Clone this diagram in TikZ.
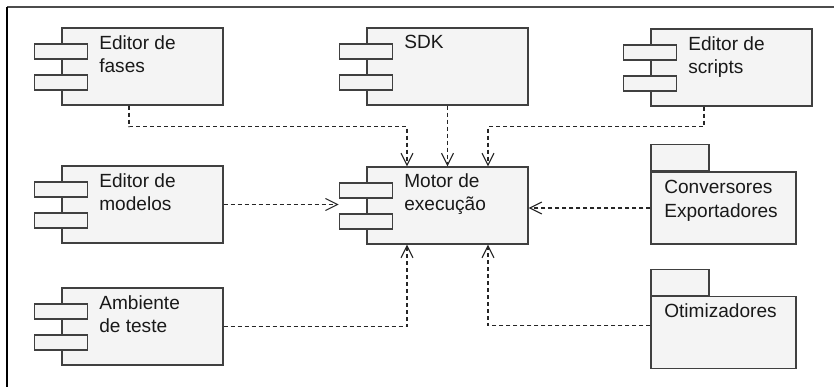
\documentclass[tikz,border=0pt]{standalone}
\usepackage{fontspec}
\setmainfont{Liberation Sans}
\usetikzlibrary{arrows.meta,calc}

\definecolor{boxfill}{RGB}{244,244,244}
\definecolor{boxline}{RGB}{64,64,64}

\tikzset{
  mainbox/.style={draw=boxline, fill=boxfill, line width=1pt, minimum width=120.75pt, minimum height=57.75pt, inner sep=0pt},
  portbox/.style={draw=boxline, fill=boxfill, line width=1pt, minimum width=39.75pt, minimum height=11.25pt, inner sep=0pt},
  pkgbox/.style={draw=boxline, fill=boxfill, line width=1pt, minimum width=108.75pt, minimum height=54pt, inner sep=0pt},
  pkgtab/.style={draw=boxline, fill=boxfill, line width=1pt, minimum width=43.5pt, minimum height=19.5pt, inner sep=0pt, anchor=south west},
  txt/.style={anchor=north west, inner sep=0pt, outer sep=0pt, align=left, text=black!90, font=\fontsize{14.3}{17.8}\selectfont},
  dep/.style={draw=black!85, line width=0.8pt, dash pattern=on 3pt off 2.25pt, -{Straight Barb[length=9pt,width=9pt]}}
}

\begin{document}
\begin{tikzpicture}[x=0.75pt,y=0.75pt,yscale=-1]
        \useasboundingbox (0,0) rectangle (834,387);
        \fill[white] (0,0) rectangle (834,387);
        % Frame
        \draw [black!70, line width=1.1pt] (834,7) -- (7,7) ;
        \draw [black, line width=1.1pt] (7,7) -- (7,387) ;

        % Component: Editor de fases
        \node [mainbox] (fases) at (142.5,66.5) {};
        \node [portbox] (fases-a) at ($(fases.west)+(-0.5,-15)$) {};
        \node [portbox] (fases-b) at ($(fases.west)+(-0.5,16)$) {};
        \node [txt] (fases-t) at ($(fases.north west)+(38,8)$) {Editor de\\fases};
        % Component: SDK
        \node [mainbox] (sdk) at (447.5,66.5) {};
        \node [portbox] (sdk-a) at ($(sdk.west)+(-0.5,-15)$) {};
        \node [portbox] (sdk-b) at ($(sdk.west)+(-0.5,16)$) {};
        \node [txt] (sdk-t) at ($(sdk.north west)+(38,8)$) {SDK};
        % Component: Editor de scripts
        \node [mainbox] (scripts) at (731.5,67.5) {};
        \node [portbox] (scripts-a) at ($(scripts.west)+(-0.5,-15)$) {};
        \node [portbox] (scripts-b) at ($(scripts.west)+(-0.5,16)$) {};
        \node [txt] (scripts-t) at ($(scripts.north west)+(38,8)$) {Editor de\\scripts};
        % Component: Editor de modelos
        \node [mainbox] (modelos) at (142.5,204.5) {};
        \node [portbox] (modelos-a) at ($(modelos.west)+(-0.5,-15)$) {};
        \node [portbox] (modelos-b) at ($(modelos.west)+(-0.5,16)$) {};
        \node [txt] (modelos-t) at ($(modelos.north west)+(38,8)$) {Editor de\\modelos};
        % Component: Motor de execucao
        \node [mainbox] (motor) at (447.5,205.5) {};
        \node [portbox] (motor-a) at ($(motor.west)+(-0.5,-15)$) {};
        \node [portbox] (motor-b) at ($(motor.west)+(-0.5,16)$) {};
        \node [txt] (motor-t) at ($(motor.north west)+(38,7)$) {Motor de\\execução};
        % Component: Ambiente de teste
        \node [mainbox] (ambiente) at (142.5,326.5) {};
        \node [portbox] (ambiente-a) at ($(ambiente.west)+(-0.5,-15)$) {};
        \node [portbox] (ambiente-b) at ($(ambiente.west)+(-0.5,16)$) {};
        \node [txt] (ambiente-t) at ($(ambiente.north west)+(38,8)$) {Ambiente\\de teste};
        % Package: Conversores
        \node [pkgbox] (conv) at (723.5,208) {};
        \node [pkgtab] (conv-tab) at (conv.north west) {};
        \node [txt] (conv-t) at ($(conv.north west)+(14,9)$) {Conversores\\Exportadores};
        % Package: Otimizadores
        \node [pkgbox] (otim) at (723.5,332.5) {};
        \node [pkgtab] (otim-tab) at (otim.north west) {};
        \node [txt] (otim-t) at ($(otim.north west)+(14,8)$) {Otimizadores};

        %Dependencies
        \draw [dep] ($(fases.south)+(-13.5,0)$) -- ++(0,21) -| ($(motor.north)+(-40.5,0)$) ;
        \draw [dep] (sdk.south) -- (motor.north) ;
        \draw [dep] ($(scripts.south)+(-27.5,0)$) -- ++(0,20) -| ($(motor.north)+(40.5,0)$) ;
        \draw [dep] (modelos.east) -- (modelos.east -| motor-a.west) ;
        \draw [dep] (conv.west) -- (conv.west -| motor.east) ;
        \draw [dep] (ambiente.east) -| ($(motor.south)+(-40.5,0)$) ;
        \draw [dep] ($(otim.west)+(0,-7)$) -| ($(motor.south)+(40.5,0)$) ;
\end{tikzpicture}
\end{document}
